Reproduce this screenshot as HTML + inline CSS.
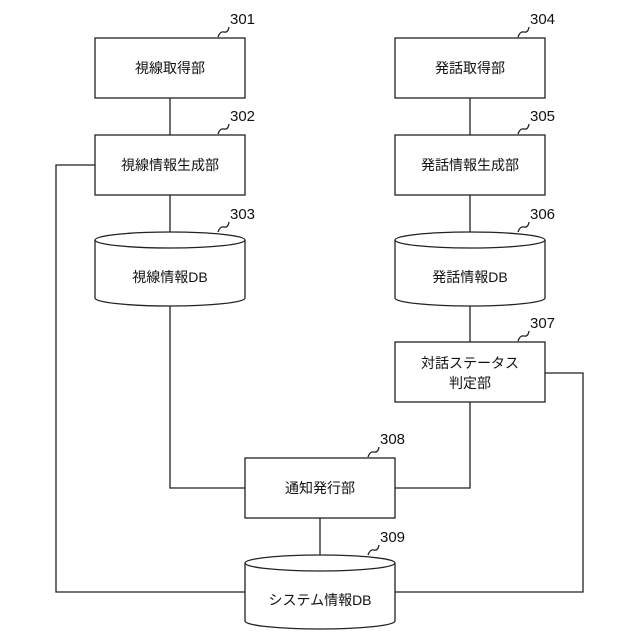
<!DOCTYPE html>
<html><head><meta charset="utf-8"><style>
html,body{margin:0;padding:0;background:#fff;}
svg{display:block;}
text{font-family:"Liberation Sans","Noto Sans CJK JP",sans-serif;fill:#111;}
</style></head><body>
<svg width="640" height="640" viewBox="0 0 640 640" xmlns="http://www.w3.org/2000/svg">
<g fill="none" stroke="#222" stroke-width="1.3">
<!-- connectors -->
<line x1="170" y1="98" x2="170" y2="135"/>
<line x1="170" y1="195" x2="170" y2="233"/>
<line x1="470" y1="98" x2="470" y2="135"/>
<line x1="470" y1="195" x2="470" y2="233"/>
<line x1="470" y1="305" x2="470" y2="342"/>
<polyline points="170,305 170,488 245,488"/>
<polyline points="470,402 470,488 395,488"/>
<line x1="320" y1="518" x2="320" y2="556"/>
<polyline points="95,165 56,165 56,592 245,592"/>
<polyline points="545,373 583,373 583,592 395,592"/>
<!-- boxes -->
<rect x="95" y="38" width="150" height="60" fill="#fff"/>
<rect x="95" y="135" width="150" height="60" fill="#fff"/>
<rect x="395" y="38" width="150" height="60" fill="#fff"/>
<rect x="395" y="135" width="150" height="60" fill="#fff"/>
<rect x="395" y="342" width="150" height="60" fill="#fff"/>
<rect x="245" y="458" width="150" height="60" fill="#fff"/>
<!-- cylinders -->
<path d="M95,240 L95,298 A75,8 0 0 0 245,298 L245,240" fill="#fff"/>
<ellipse cx="170" cy="240" rx="75" ry="8" fill="#fff"/>
<path d="M395,240 L395,298 A75,8 0 0 0 545,298 L545,240" fill="#fff"/>
<ellipse cx="470" cy="240" rx="75" ry="8" fill="#fff"/>
<path d="M245,563 L245,621 A75,8 0 0 0 395,621 L395,563" fill="#fff"/>
<ellipse cx="320" cy="563" rx="75" ry="8" fill="#fff"/>
<!-- squiggles -->
<path d="M218,37 q2,-6 6,-5 q4,1 5,-5"/>
<path d="M218,134 q2,-6 6,-5 q4,1 5,-5"/>
<path d="M218,232 q2,-6 6,-5 q4,1 5,-5"/>
<path d="M518,37 q2,-6 6,-5 q4,1 5,-5"/>
<path d="M518,134 q2,-6 6,-5 q4,1 5,-5"/>
<path d="M518,232 q2,-6 6,-5 q4,1 5,-5"/>
<path d="M518,341 q2,-6 6,-5 q4,1 5,-5"/>
<path d="M368,457 q2,-6 6,-5 q4,1 5,-5"/>
<path d="M368,555 q2,-6 6,-5 q4,1 5,-5"/>
</g>
<g font-size="15">
<text x="230" y="24">301</text>
<text x="230" y="121">302</text>
<text x="230" y="219">303</text>
<text x="530" y="24">304</text>
<text x="530" y="121">305</text>
<text x="530" y="219">306</text>
<text x="530" y="328">307</text>
<text x="380" y="444">308</text>
<text x="380" y="542">309</text>
</g>
<g font-size="14" text-anchor="middle">
<text x="170" y="73">視線取得部</text>
<text x="170" y="170">視線情報生成部</text>
<text x="170" y="282">視線情報DB</text>
<text x="470" y="73">発話取得部</text>
<text x="470" y="170">発話情報生成部</text>
<text x="470" y="282">発話情報DB</text>
<text x="470" y="368">対話ステータス</text>
<text x="470" y="388">判定部</text>
<text x="320" y="493">通知発行部</text>
<text x="320" y="605">システム情報DB</text>
</g>
</svg>
</body></html>
